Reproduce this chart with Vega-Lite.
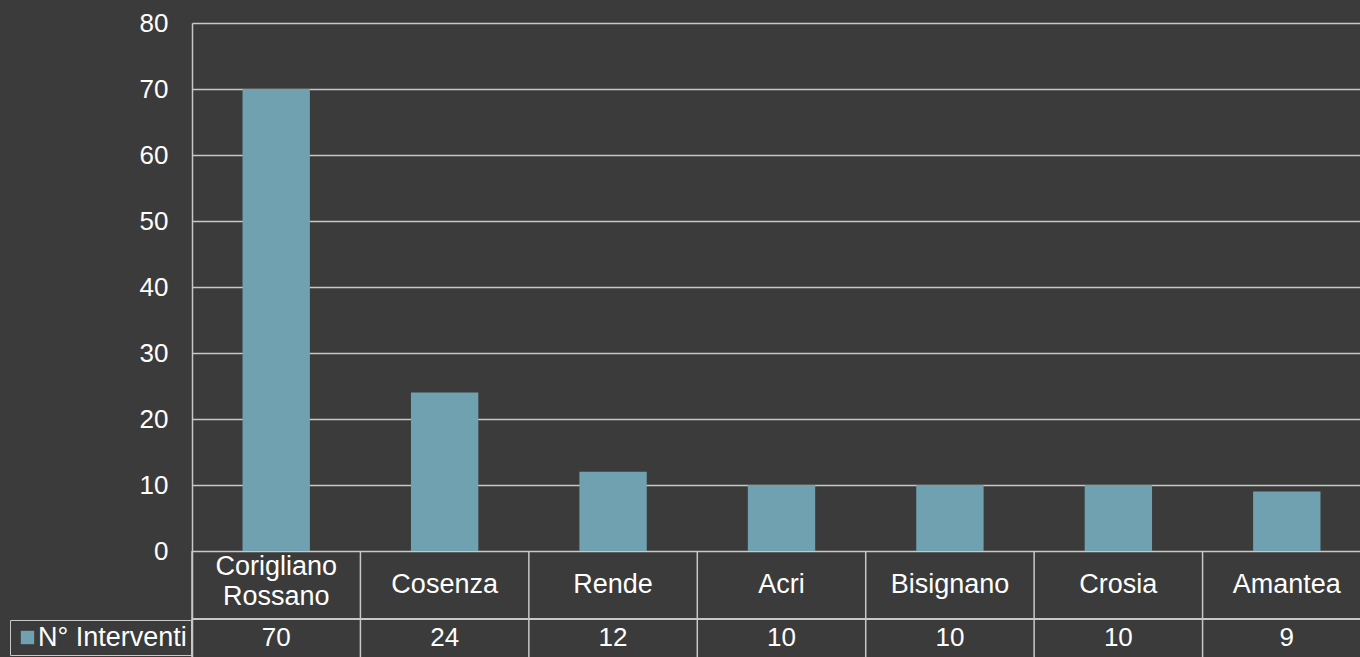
{
  "$schema": "https://vega.github.io/schema/vega-lite/v6.json",
  "width": 1179,
  "height": 634,
  "autosize": {"type": "none"},
  "padding": {"left": 192, "top": 23, "right": 0, "bottom": 0},
  "background": "#3b3b3b",
  "config": {"view": {"stroke": null}, "font": "Liberation Sans"},
  "data": {
    "values": [
      {"comune": "Corigliano Rossano", "interventi": 70, "serie": "N° Interventi"},
      {"comune": "Cosenza", "interventi": 24, "serie": "N° Interventi"},
      {"comune": "Rende", "interventi": 12, "serie": "N° Interventi"},
      {"comune": "Acri", "interventi": 10, "serie": "N° Interventi"},
      {"comune": "Bisignano", "interventi": 10, "serie": "N° Interventi"},
      {"comune": "Crosia", "interventi": 10, "serie": "N° Interventi"},
      {"comune": "Amantea", "interventi": 9, "serie": "N° Interventi"}
    ]
  },
  "layer": [
    {
      "mark": {"type": "bar", "width": {"band": 0.4}},
      "encoding": {
        "x": {"field": "comune", "type": "nominal", "sort": null, "scale": {"paddingInner": 0, "paddingOuter": 0}, "axis": null},
        "y": {
          "field": "interventi",
          "type": "quantitative",
          "scale": {"domain": [-16.0606, 80], "nice": false, "zero": false},
          "axis": {
            "values": [0, 10, 20, 30, 40, 50, 60, 70, 80],
            "grid": true,
            "gridColor": "#c8c8c8",
            "gridWidth": 1.5,
            "domainColor": "#c8c8c8",
            "domainWidth": 1.5,
            "ticks": false,
            "tickSize": 0,
            "labelPadding": 24,
            "labelFontSize": 26,
            "labelColor": "#ffffff",
            "labelFont": "Liberation Sans",
            "title": null
          }
        },
        "y2": {"datum": 0},
        "color": {
          "field": "serie",
          "type": "nominal",
          "scale": {"range": ["#6fa1b1"]},
          "legend": {
            "orient": "none",
            "legendX": -182,
            "legendY": 597,
            "title": null,
            "strokeColor": "#c8c8c8",
            "padding": 4,
            "symbolType": "square",
            "symbolSize": 180,
            "symbolStrokeWidth": 0,
            "labelFontSize": 27,
            "labelColor": "#ffffff",
            "labelFont": "Liberation Sans",
            "labelOffset": -3
          }
        }
      }
    },
    {
      "mark": {"type": "rule", "color": "#c8c8c8", "strokeWidth": 1.5},
      "encoding": {
        "x": {"field": "comune", "type": "nominal", "sort": null, "bandPosition": 0},
        "y": {"datum": 0},
        "y2": {"datum": -16.0606}
      }
    },
    {
      "mark": {"type": "rule", "color": "#c8c8c8", "strokeWidth": 1.5},
      "encoding": {"y": {"datum": -10.3}}
    },
    {
      "transform": [{"filter": "indexof(datum.comune, ' ') < 0"}],
      "mark": {"type": "text", "fontSize": 27, "color": "#ffffff", "baseline": "middle", "align": "center"},
      "encoding": {
        "x": {"field": "comune", "type": "nominal", "sort": null},
        "y": {"datum": -5.15},
        "text": {"field": "comune"}
      }
    },
    {
      "transform": [{"filter": "indexof(datum.comune, ' ') >= 0"}],
      "mark": {"type": "text", "fontSize": 27, "color": "#ffffff", "baseline": "middle", "align": "center", "lineBreak": " ", "lineHeight": 29.5},
      "encoding": {
        "x": {"field": "comune", "type": "nominal", "sort": null},
        "y": {"datum": -2.45},
        "text": {"field": "comune"}
      }
    },
    {
      "mark": {"type": "text", "fontSize": 26, "color": "#ffffff", "baseline": "middle", "align": "center"},
      "encoding": {
        "x": {"field": "comune", "type": "nominal", "sort": null},
        "y": {"datum": -13.18},
        "text": {"field": "interventi", "type": "quantitative"}
      }
    }
  ]
}
